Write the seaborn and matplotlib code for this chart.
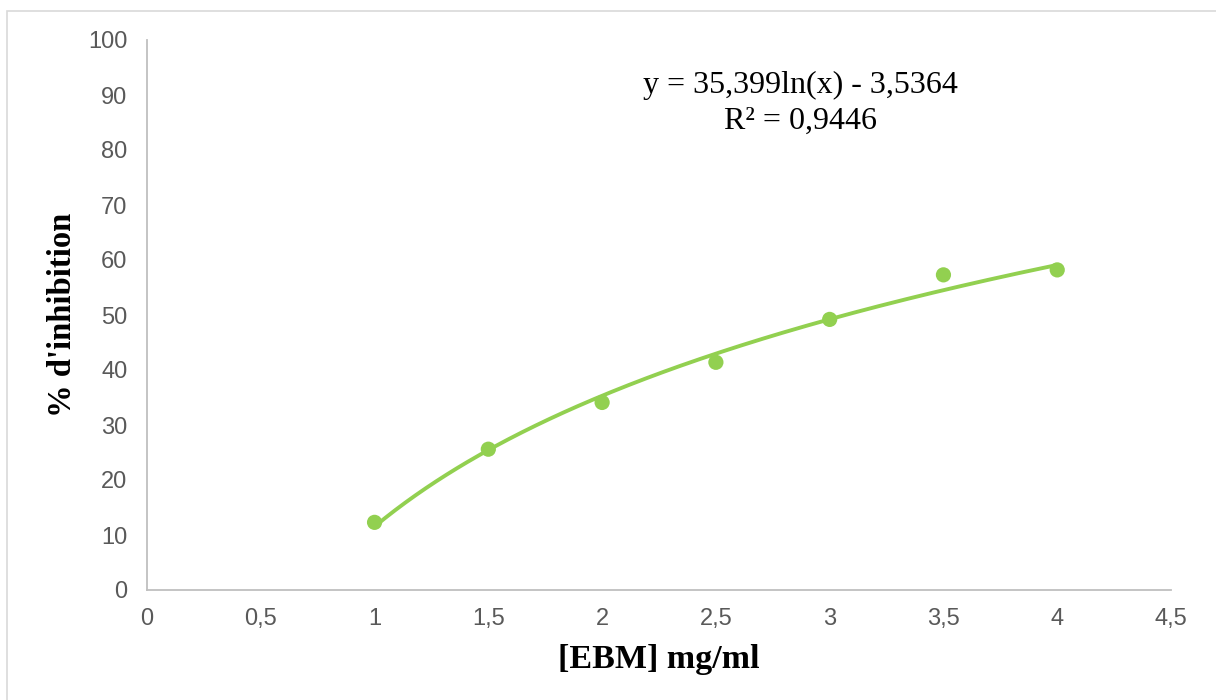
import numpy as np
import pandas as pd
import matplotlib
matplotlib.use("Agg")
import matplotlib.pyplot as plt
import seaborn as sns
from matplotlib.patches import Rectangle

# Data
concentration = [1, 1.5, 2, 2.5, 3, 3.5, 4]
inhibition = [12.3, 25.6, 34.1, 41.4, 49.2, 57.3, 58.2]
x_ticks = [0, 0.5, 1, 1.5, 2, 2.5, 3, 3.5, 4, 4.5]
x_tick_labels = ["0", "0,5", "1", "1,5", "2", "2,5", "3", "3,5", "4", "4,5"]
y_ticks = [0, 10, 20, 30, 40, 50, 60, 70, 80, 90, 100]
equation_text = "y = 35,399ln(x) - 3,5364\nR² = 0,9446"

df = pd.DataFrame({"x": concentration, "y": inhibition})

sns.set_theme(style="white")
plt.rcParams["font.family"] = ["Liberation Sans", "DejaVu Sans"]

green = "#92D050"
fig = plt.figure(figsize=(12.16, 7), dpi=100)
ax = fig.add_axes([147/1216, 1 - 590/700, (1171-147)/1216, (590-40)/700])

# logarithmic trendline (least squares on ln x)
a, b = np.polyfit(np.log(df["x"]), df["y"], 1)
xs = np.linspace(min(concentration), max(concentration), 200)
trend = pd.DataFrame({"x": xs, "y": a*np.log(xs) + b})
sns.lineplot(data=trend, x="x", y="y", ax=ax, color=green, lw=2.8, zorder=2)
sns.scatterplot(data=df, x="x", y="y", ax=ax, color=green, s=120, edgecolor="none", zorder=3)

ax.set_xlim(0, 4.5)
ax.set_ylim(0, 100)
ax.set_xticks(x_ticks)
ax.set_xticklabels(x_tick_labels)
ax.set_yticks(y_ticks)
ax.tick_params(axis="both", length=0, labelsize=17, colors="#595959")
ax.tick_params(axis="x", pad=13)
ax.tick_params(axis="y", pad=14)
for s in ["top", "right"]:
    ax.spines[s].set_visible(False)
for s in ["left", "bottom"]:
    ax.spines[s].set_color("#BFBFBF")
    ax.spines[s].set_linewidth(1.3)
ax.grid(False)

ax.set_xlabel("[EBM] mg/ml", family="Liberation Serif", fontweight="bold",
              fontsize=24.5, color="black", labelpad=10)
ax.set_ylabel("% d'inhibition", family="Liberation Serif", fontweight="bold",
              fontsize=23.5, color="black", labelpad=7)

fig.text(800/1216, 1 - 103/700, equation_text, family="Liberation Serif",
         fontsize=23, ha="center", va="center", linespacing=1.3, color="black")

# outer chart border (top & left visible)
fig.patches.append(Rectangle((7/1216, -0.1), 1.2, 0.1 + (1 - 11/700),
                             transform=fig.transFigure, fill=False,
                             edgecolor="#D9D9D9", lw=1.2))

fig.savefig("out.png", dpi=100)
